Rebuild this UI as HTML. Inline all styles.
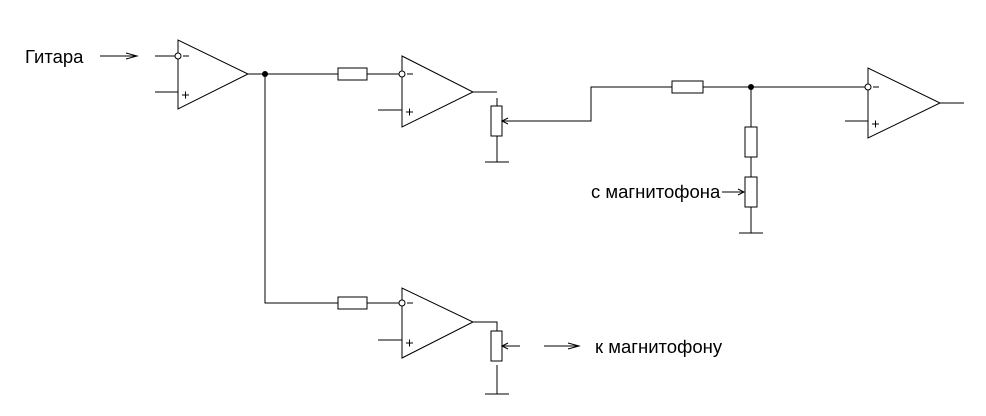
<!DOCTYPE html>
<html><head><meta charset="utf-8"><style>
html,body{margin:0;padding:0;background:#fff;width:986px;height:416px;overflow:hidden}
svg text{font-family:"Liberation Sans",sans-serif;fill:#000}
</style></head><body>
<svg width="986" height="416" viewBox="0 0 986 416" xmlns="http://www.w3.org/2000/svg">
<g fill="none" stroke="#000" stroke-width="1">
<!-- opamp 1 -->
<polygon points="178,40 178,109 248,74"/>
<line x1="155" y1="56" x2="175" y2="56"/>
<circle cx="178" cy="56" r="3" fill="#fff"/>
<line x1="183" y1="56" x2="189" y2="56"/>
<line x1="155" y1="92" x2="178" y2="92"/>
<line x1="182" y1="95" x2="189" y2="95"/><line x1="185.5" y1="91.5" x2="185.5" y2="98.5"/>
<line x1="100" y1="56" x2="137" y2="56"/>
<polyline points="126,53 137,56 126,59"/>
<!-- to opamp 2 -->
<line x1="248" y1="74" x2="338" y2="74"/>
<rect x="338" y="68" width="29" height="12"/>
<line x1="367" y1="74" x2="399" y2="74"/>
<polygon points="402,56 402,127 473,92"/>
<circle cx="402" cy="74" r="3" fill="#fff"/>
<line x1="407" y1="74" x2="413" y2="74"/>
<line x1="378" y1="110" x2="402" y2="110"/>
<line x1="406" y1="112" x2="413" y2="112"/><line x1="409.5" y1="108.5" x2="409.5" y2="115.5"/>
<line x1="473" y1="92" x2="497" y2="92"/>
<!-- pot 1 -->
<line x1="497" y1="98" x2="497" y2="106"/>
<rect x="491" y="106" width="11" height="30"/>
<line x1="497" y1="136" x2="497" y2="162"/>
<line x1="485" y1="162" x2="509" y2="162"/>
<polyline points="502,121 591,121 591,87 672,87"/>
<polyline points="508,118 502,121 508,124"/>
<rect x="672" y="81" width="31" height="12"/>
<line x1="703" y1="87" x2="865" y2="87"/>
<!-- opamp 3 -->
<polygon points="868,68 868,138 940,103"/>
<circle cx="868" cy="87" r="3" fill="#fff"/>
<line x1="873" y1="87" x2="879" y2="87"/>
<line x1="845" y1="121" x2="868" y2="121"/>
<line x1="872" y1="124" x2="879" y2="124"/><line x1="875.5" y1="120.5" x2="875.5" y2="127.5"/>
<line x1="940" y1="103" x2="964" y2="103"/>
<!-- vertical branch right -->
<line x1="751" y1="87" x2="751" y2="127"/>
<rect x="745" y="127" width="12" height="30"/>
<line x1="751" y1="157" x2="751" y2="177"/>
<rect x="745" y="177" width="12" height="30"/>
<line x1="751" y1="207" x2="751" y2="233"/>
<line x1="739" y1="233" x2="763" y2="233"/>
<line x1="722" y1="192" x2="744" y2="192"/>
<polyline points="738,189 744,192 738,195"/>
<!-- lower branch -->
<polyline points="265,74 265,303 338,303"/>
<rect x="338" y="297" width="29" height="12"/>
<line x1="367" y1="303" x2="399" y2="303"/>
<polygon points="402,288 402,358 473,322"/>
<circle cx="402" cy="303" r="3" fill="#fff"/>
<line x1="407" y1="303" x2="413" y2="303"/>
<line x1="378" y1="340" x2="402" y2="340"/>
<line x1="406" y1="343" x2="413" y2="343"/><line x1="409.5" y1="339.5" x2="409.5" y2="346.5"/>
<polyline points="473,322 497,322 497,331"/>
<rect x="491" y="331" width="11" height="30"/>
<line x1="497" y1="365" x2="497" y2="378"/>
<line x1="497" y1="378" x2="497" y2="394"/>
<line x1="485" y1="394" x2="509" y2="394"/>
<line x1="502" y1="346" x2="520" y2="346"/>
<polyline points="508,343 502,346 508,349"/>
<line x1="544" y1="346" x2="579" y2="346"/>
<polyline points="568,343 579,346 568,349"/>
</g>
<circle cx="265" cy="74" r="3" fill="#000"/>
<circle cx="751" cy="87" r="3" fill="#000"/>
<text x="25" y="63" font-size="18.5">Гитара</text>
<text x="591" y="198" font-size="18.5">с магнитофона</text>
<text x="595" y="353" font-size="18.5">к магнитофону</text>
</svg>
</body></html>
